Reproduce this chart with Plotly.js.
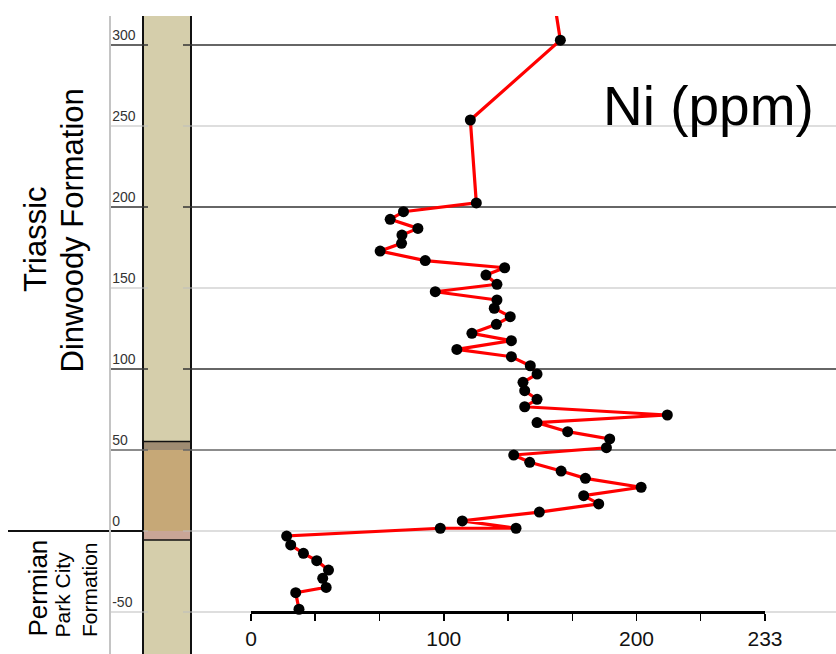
<!DOCTYPE html>
<html>
<head>
<meta charset="utf-8">
<script src="https://cdn.plot.ly/plotly-3.0.1.min.js"></script>
<style>html,body{margin:0;padding:0;background:#fff;}#chart{width:836px;height:654px;}</style>
</head>
<body>
<div id="chart"></div>
<script>
// ---- data ----
const depth = [340, 303, 253.7, 202.5, 197.1, 192.4, 186.8, 182.7, 177.6, 172.8, 166.9,
  162.5, 158.0, 152.3, 147.7, 142.6, 137.5, 132.3, 127.6, 122.0, 117.5,
  112.1, 107.6, 102.0, 96.9, 91.8, 86.6, 81.3, 76.7, 71.6, 66.9, 61.3, 56.8, 51.4,
  46.9, 42.4, 37.0, 32.5, 27.0, 21.8, 16.7, 11.7, 6.2, 1.7, 1.7,
  -3.1, -8.6, -13.8, -18.3, -24.1, -29.2, -34.8, -38.1, -48.3];
const ni = [155.6, 160.5, 113.8, 116.9, 79.1, 72.2, 86.6, 78.3, 78.1, 67.0, 90.4,
  131.6, 121.9, 127.6, 95.6, 127.6, 126.2, 134.5, 127.3, 114.6, 135.1,
  106.8, 135.1, 144.9, 148.4, 141.1, 142.0, 148.4, 142.0, 216.0, 148.4, 164.3, 186.1, 184.4,
  136.3, 144.6, 160.9, 173.5, 202.4, 172.6, 180.4, 149.6, 109.6, 137.5, 98.2,
  18.5, 20.6, 27.2, 34.1, 40.2, 37.2, 39.0, 23.2, 24.9];

const yTickVals = [-50, 0, 50, 100, 150, 200, 250, 300];
const yTickText = ['-50', '0', '50', '100', '150', '200', '250', '300'];
const yDarkLines = [50, 100, 200, 300];
const xTickVals = [0, 33.33, 66.67, 100, 133.33, 166.67, 200, 233.33, 266.67];
const xTickText = ['0', '', '', '100', '', '', '200', '', '233'];

// lithology bands (depth top, depth bottom)
const bandTop = [55.2, 50, 0];
const bandBottom = [50, 0, -5.5];
const bandNames = ['dark', 'brown', 'pink'];

// ---- layout helpers ----
const W = 836, H = 654;
const px = x => x / W;
const py = y => (H - y) / H;
const bandColors = {dark: '#9f8c72', brown: '#c6a877', pink: '#c9a597'};

const shapes = [];
shapes.push({type: 'rect', xref: 'paper', yref: 'paper', x0: px(143), x1: px(191), y0: 0, y1: py(16),
  fillcolor: '#d5ceab', line: {width: 0}, layer: 'below'});
bandNames.forEach((n, i) => {
  shapes.push({type: 'rect', xref: 'paper', yref: 'y', x0: px(143), x1: px(191), y0: bandBottom[i], y1: bandTop[i],
    fillcolor: bandColors[n], line: {width: 0}, layer: 'below'});
});
shapes.push({type: 'line', xref: 'paper', yref: 'y', x0: px(143), x1: px(191), y0: bandTop[0], y1: bandTop[0],
  line: {color: '#111', width: 1.5}, layer: 'below'});
shapes.push({type: 'line', xref: 'paper', yref: 'y', x0: px(143), x1: px(191), y0: bandBottom[2], y1: bandBottom[2],
  line: {color: '#111', width: 1.5}, layer: 'below'});
[143, 191].forEach(x => shapes.push({type: 'line', xref: 'paper', yref: 'paper', x0: px(x), x1: px(x), y0: 0, y1: py(16),
  line: {color: '#111', width: 2}, layer: 'below'}));
yTickVals.forEach(v => {
  const dark = yDarkLines.includes(v);
  const col = v === 50 ? '#666' : (dark ? '#333' : '#bdbdbd');
  const w = dark ? 1.5 : 1.2;
  shapes.push({type: 'line', xref: 'paper', yref: 'y', x0: px(110), x1: px(148), y0: v, y1: v, line: {color: col, width: w}, layer: 'below'});
  shapes.push({type: 'line', xref: 'paper', yref: 'y', x0: px(183), x1: 1, y0: v, y1: v, line: {color: col, width: w}, layer: 'below'});
});
shapes.push({type: 'line', xref: 'paper', yref: 'y', x0: px(8), x1: px(143), y0: 0, y1: 0,
  line: {color: '#111', width: 2.2}, layer: 'below'});

const font = 'Liberation Sans, Arial, sans-serif';
const annotations = [
  {text: 'Ni (ppm)', x: px(708), y: py(106), xref: 'paper', yref: 'paper', showarrow: false,
    xanchor: 'center', yanchor: 'middle', font: {family: font, size: 55, color: '#000'}},
  {text: 'Triassic', x: px(36), y: py(239), xref: 'paper', yref: 'paper', showarrow: false, textangle: -90,
    xanchor: 'center', yanchor: 'middle', font: {family: font, size: 31, color: '#000'}},
  {text: 'Dinwoody Formation', x: px(72), y: py(230.5), xref: 'paper', yref: 'paper', showarrow: false, textangle: -90,
    xanchor: 'center', yanchor: 'middle', font: {family: font, size: 31, color: '#000'}},
  {text: 'Permian', x: px(37), y: py(588.5), xref: 'paper', yref: 'paper', showarrow: false, textangle: -90,
    xanchor: 'center', yanchor: 'middle', font: {family: font, size: 26, color: '#000'}},
  {text: 'Park City', x: px(62), y: py(594.5), xref: 'paper', yref: 'paper', showarrow: false, textangle: -90,
    xanchor: 'center', yanchor: 'middle', font: {family: font, size: 21, color: '#000'}},
  {text: 'Formation', x: px(89.5), y: py(589.5), xref: 'paper', yref: 'paper', showarrow: false, textangle: -90,
    xanchor: 'center', yanchor: 'middle', font: {family: font, size: 21, color: '#000'}}
];

const trace = {
  x: ni, y: depth, type: 'scatter', mode: 'lines+markers',
  line: {color: '#ff0000', width: 3.2},
  marker: {color: '#000', size: 11},
  hoverinfo: 'skip'
};

const layout = {
  width: W, height: H,
  margin: {l: 0, r: 0, t: 0, b: 0, pad: 0},
  paper_bgcolor: '#fff', plot_bgcolor: 'rgba(0,0,0,0)',
  showlegend: false,
  font: {family: font},
  xaxis: {
    domain: [px(251), px(251 + 266.67 * 1.9275)],
    range: [0, 266.67],
    anchor: 'free', position: py(612),
    showgrid: false, zeroline: false,
    showline: true, linecolor: '#000', linewidth: 3,
    ticks: 'outside', ticklen: 7, tickwidth: 1.5, tickcolor: '#000',
    tickmode: 'array', tickvals: xTickVals, ticktext: xTickText,
    tickfont: {family: font, size: 21, color: '#111'}
  },
  yaxis: {
    domain: [0, py(16)],
    range: [(531 - 654) / 1.62, (531 - 16) / 1.62],
    anchor: 'free', position: px(110), side: 'left',
    showgrid: false, zeroline: false,
    showline: true, linecolor: '#c4c4c4', linewidth: 2,
    ticks: '', ticklabelposition: 'inside top',
    tickmode: 'array', tickvals: yTickVals, ticktext: yTickText,
    tickfont: {family: font, size: 14, color: '#333'}
  },
  shapes: shapes,
  annotations: annotations
};

Plotly.newPlot('chart', [trace], layout, {displayModeBar: false, staticPlot: true});
</script>
</body>
</html>
